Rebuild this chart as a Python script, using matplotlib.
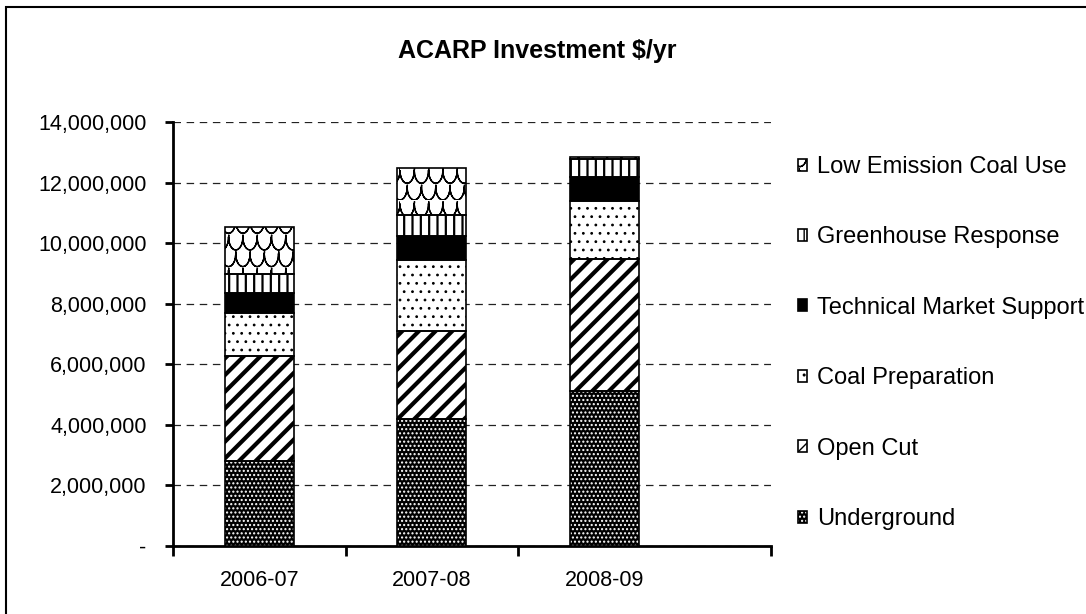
import matplotlib
matplotlib.use("Agg")
import matplotlib.pyplot as plt
import matplotlib.patches as mpatches
import matplotlib.hatch as mhatch
from matplotlib.path import Path
import numpy as np

plt.rcParams['font.family'] = ['Liberation Sans', 'DejaVu Sans']

years = ["2006-07", "2007-08", "2008-09"]
series = ["Underground", "Open Cut", "Coal Preparation",
          "Technical Market Support", "Greenhouse Response", "Low Emission Coal Use"]
underground = [2820000, 4180000, 5130000]
open_cut = [3450000, 2930000, 4340000]
coal_prep = [1410000, 2330000, 1910000]
tech_market = [680000, 790000, 810000]
greenhouse = [620000, 690000, 600000]
low_emission = [1550000, 1560000, 60000]
values = [underground, open_cut, coal_prep, tech_market, greenhouse, low_emission]


# fish-scale hatch, used in place of the '*' pattern
class Scales(mhatch.HatchPatternBase):
    seg = 10

    def __init__(self, hatch, density):
        n = hatch.count('*')
        self.cols = 7 * n
        self.rows = 6 * n
        self.per = 2 * self.seg + 1
        self.num_vertices = (self.cols + 2) * self.rows * self.per if n else 0

    def set_vertices_and_codes(self, vertices, codes):
        sx = 1.0 / self.cols
        sy = 1.0 / self.rows
        t = np.linspace(np.pi, 2 * np.pi, self.seg + 1)
        ax_ = 0.5 * sx * np.cos(t)
        ay_ = 0.75 * sy * np.sin(t)
        arc = np.column_stack([ax_, ay_])
        shape = np.vstack([arc, arc[-2::-1]])
        k = 0
        for i in range(self.rows):
            off = 0.5 * sx if i % 2 else 0.0
            for j in range(-1, self.cols + 1):
                cx = j * sx + off
                cy = (i + 0.75) * sy
                vertices[k:k + self.per] = shape + [cx, cy]
                codes[k] = Path.MOVETO
                codes[k + 1:k + self.per] = Path.LINETO
                k += self.per


mhatch._hatch_types = [h for h in mhatch._hatch_types if h is not mhatch.Stars] + [Scales]

# face colour, hatch colour, hatch, hatch width
styles = [
    ("black", "white", "....", 1.0),
    ("white", "black", "//", 3.0),
    ("white", "black", "..", 0.8),
    ("black", "black", "", 1.0),
    ("white", "black", "||", 1.6),
    ("white", "black", "*", 1.0),
]

fig = plt.figure(figsize=(10.86, 6.14), dpi=100)
ax = fig.add_axes([173/1086, 1-546/614, (771-173)/1086, (546-122)/614])

x = np.arange(len(years))
bottom = np.zeros(len(years))
handles = []
for vals, (fc, hc, h, hw) in zip(values, styles):
    kw = {}
    if hasattr(mpatches.Patch, "set_hatch_linewidth"):
        kw["hatch_linewidth"] = hw
    else:
        plt.rcParams['hatch.linewidth'] = hw
    b1 = ax.bar(x, vals, 0.4, bottom=bottom, facecolor=fc, edgecolor=hc,
                hatch=h, linewidth=0, zorder=3, **kw)
    b2 = ax.bar(x, vals, 0.4, bottom=bottom, fill=False, edgecolor="black",
                linewidth=1.2, zorder=4)
    handles.append((b1, b2))
    bottom += np.array(vals)

ax.set_xlim(-0.5, 2.965)
ax.set_ylim(0, 14000000)
ax.set_yticks(np.arange(0, 14000001, 2000000))
ax.set_yticklabels(["-"] + [f"{v:,}" for v in range(2000000, 14000001, 2000000)])
ax.set_xticks(x)
ax.set_xticklabels(years)
ax.set_xticks([-0.5, 0.5, 1.5, 2.965], minor=True)
ax.tick_params(axis="x", which="major", length=0, pad=17, labelsize=15.5)
ax.tick_params(axis="x", which="minor", length=7, width=2, direction="out")
ax.tick_params(axis="y", length=6, width=2, direction="out", pad=13, labelsize=15.5)

for s in ["top", "right"]:
    ax.spines[s].set_visible(False)
ax.spines["left"].set_linewidth(2)
ax.spines["bottom"].set_linewidth(2)
ax.yaxis.grid(True, color="#222222", linewidth=0.9, linestyle=(0, (6, 4.5)), zorder=0)
ax.set_axisbelow(True)

fig.text(537/1086, 1-51/614, "ACARP Investment $/yr", ha="center", va="center",
         fontsize=18, fontweight="bold")

leg = fig.legend(handles[::-1], series[::-1], loc="upper left",
                 bbox_to_anchor=(798/1086, 1-156/614), frameon=False,
                 fontsize=17, handlelength=0.4, handleheight=0.4,
                 handletextpad=0.4, labelspacing=2.05, borderpad=0, borderaxespad=0)

fig.patches.append(mpatches.Rectangle((6/1086, -0.1), 1.2, 1.1 - 7/614,
                                      transform=fig.transFigure, fill=False,
                                      edgecolor="black", linewidth=1.5))

fig.savefig("out.png", dpi=100)
